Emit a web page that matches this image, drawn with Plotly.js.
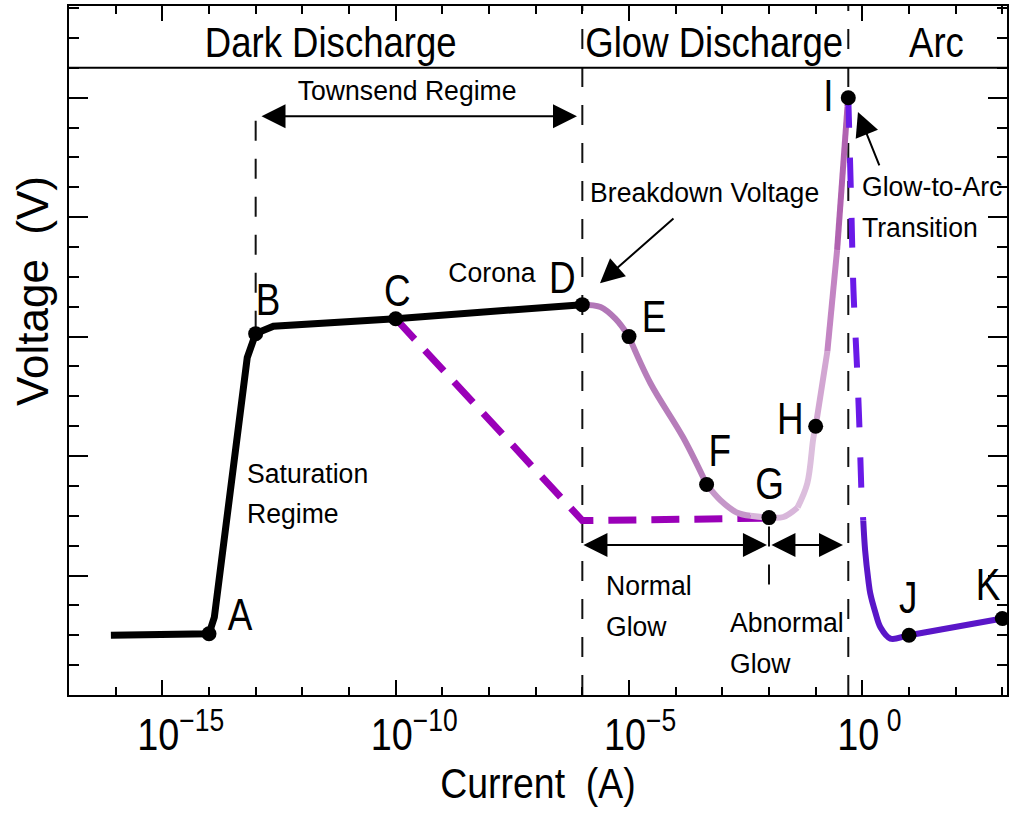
<!DOCTYPE html>
<html><head><meta charset="utf-8">
<script src="https://cdn.plot.ly/plotly-3.0.1.min.js"></script>
<style>html,body{margin:0;padding:0;background:#fff;} #chart{width:1012px;height:813px;}</style>
</head><body><div id="chart"></div>
<script>
// ---------------- data ----------------
// Dark discharge (black) curve: current (A) / voltage (arb. tick units)
const darkCurrent = [7.9e-17, 1e-14, 1.3e-14, 6.6e-14, 1e-13, 2.4e-13, 1e-10, 1e-6];
const darkVoltage = [2.0, 2.05, 2.6, 11.3, 12.1, 12.35, 12.6, 13.07];

// Dashed purple path C -> normal glow
const shortcutCurrent = [1e-10, 1e-6, 1e-2];
const shortcutVoltage = [12.6, 5.84, 5.92];

// Glow discharge (mauve) curve D -> I
const glowCurrent = [1e-6, 2.45e-6, 5.1e-6, 1e-5, 2.9e-5, 1.45e-4, 4.6e-4, 9.1e-4, 2.1e-3, 4e-3, 1e-2, 2.04e-2, 4.1e-2, 6.6e-2, 8.9e-2, 0.1, 0.178, 0.288, 0.48, 0.5];
const glowVoltage = [13.07, 12.99, 12.6, 12.0, 10.43, 8.62, 7.05, 6.52, 6.1, 6.0, 5.94, 5.96, 6.28, 7.08, 8.6, 9.0, 11.5, 14.9, 19.7, 20.0];

// Glow-to-arc transition (dashed) and arc (solid)
const transCurrent = [0.5, 0.575, 0.646, 0.776, 0.871, 0.955, 1.047];
const transVoltage = [20.0, 16.56, 13.54, 10.86, 8.86, 6.85, 5.84];
const arcCurrent = [1.047, 1.148, 1.349, 1.479, 1.905, 2.455, 3.98, 10, 1000];
const arcVoltage = [5.84, 4.84, 3.83, 3.40, 2.76, 2.26, 1.89, 2.0, 2.56];

// Labelled points
const pointLabels = ['A','B','C','D','E','F','G','H','I','J','K'];
const pointCurrent = [1e-14, 1e-13, 1e-10, 1e-6, 1e-5, 4.6e-4, 1e-2, 0.1, 0.5, 10, 1000];
const pointVoltage = [2.05, 12.1, 12.6, 13.07, 12.0, 7.05, 5.94, 9.0, 20.0, 2.0, 2.56];

// Region boundaries (current, A)
const boundaryCurrent = [1e-13, 1e-6, 1e-2, 0.5];
const boundaryVoltageFrom = [12.2, 0, 3.7, 0];
const boundaryVoltageTo = [19.8, 23.07, 5.9, 23.07];

// Axis ticks
const xTickVals = [1e-15, 1e-10, 1e-5, 1];
const xTickText = ['10<sup>−15</sup>', '10<sup>−10</sup>', '10<sup>−5</sup>', '10<sup> 0</sup>'];
const xMinorVals = [1e-17,1e-16,1e-14,1e-13,1e-12,1e-11,1e-9,1e-8,1e-7,1e-6,1e-4,1e-3,1e-2,1e-1,10,100,1000];

// Region texts
const regionNames = ['Dark Discharge', 'Glow Discharge', 'Arc'];

// ---------------- styles ----------------
const FONT = 'Arial, "Liberation Sans", sans-serif';
const glowSegments = [[0, 3, '#b277b7'], [3, 6, '#b67dba'], [6, 9, '#c597c9'], [9, 12, '#d8b6da'], [12, 15, '#dcbedd'],
  [15, 16, '#d2a6d2'], [16, 17, '#c385c3'], [17, 18, '#b062b0'], [18, 19, '#9c3e9c']];
const labelShift = {A:[31,19],B:[12,34],C:[2,28],D:[-20,27],E:[25,20],F:[13,34],G:[0,34],H:[-25,8],I:[-20,2],J:[-1,38],K:[-14,34]};
const SQ_LABEL = 0.82, SQ_HEAD = 0.87, SQ_SMALL = 0.95, SQ_TICK = 0.86, SQ_XTITLE = 0.87;

const traces = [];
boundaryCurrent.forEach((c, i) => {
  traces.push({x:[c, c], y:[boundaryVoltageFrom[i], boundaryVoltageTo[i]], mode:'lines',
    line:{color:'#111', width:2, dash:'20px,18px'}, hoverinfo:'skip'});
});
traces.push({x:shortcutCurrent, y:shortcutVoltage, mode:'lines', line:{color:'#9a00b8', width:7, dash:'28px,15px'}});
traces.push({x:darkCurrent, y:darkVoltage, mode:'lines', line:{color:'#000', width:7}});
glowSegments.forEach(([a, b, col]) => {
  traces.push({x:glowCurrent.slice(a, b+1), y:glowVoltage.slice(a, b+1), mode:'lines',
    line:{color:col, width:6, shape:'spline', smoothing:1}});
});
traces.push({x:transCurrent, y:transVoltage, mode:'lines', line:{color:'#6a1ae8', width:6, dash:'30px,30px', shape:'spline'}});
traces.push({x:arcCurrent, y:arcVoltage, mode:'lines', line:{color:'#5a16c8', width:6, shape:'spline'}});
traces.push({x:pointCurrent, y:pointVoltage, mode:'markers', marker:{color:'#000', size:15}});

const ann = [], annSqueeze = [];
const txt = (text, lx, y, size, sq, opts) => {
  annSqueeze.push(sq);
  return Object.assign({text, x:lx, y, xref:'x', yref:'y', showarrow:false,
    font:{family:FONT, size, color:'#000'}}, opts || {});
};
// point labels
pointLabels.forEach((l, i) => {
  ann.push(txt(l, Math.log10(pointCurrent[i]), pointVoltage[i], 45, SQ_LABEL, {xshift:labelShift[l][0], yshift:labelShift[l][1]}));
});
// region headers
ann.push(txt(regionNames[0], -11.386, 21.86, 42, SQ_HEAD));
ann.push(txt(regionNames[1], -3.18, 21.86, 42, SQ_HEAD));
ann.push(txt(regionNames[2], 1.58, 21.86, 42, SQ_HEAD));
// other text
const L = {xanchor:'left', align:'left'};
ann.push(txt('Townsend Regime', -9.758, 20.25, 28, SQ_SMALL));
ann.push(txt('Breakdown Voltage', -3.372, 16.81, 28, SQ_SMALL));
ann.push(txt('Corona', -7.936, 14.16, 28, SQ_SMALL));
ann.push(txt('Saturation', -13.229, 7.43, 28, SQ_SMALL, L));
ann.push(txt('Regime', -13.229, 6.09, 28, SQ_SMALL, L));
ann.push(txt('Normal', -5.536, 3.68, 28, SQ_SMALL, L));
ann.push(txt('Glow', -5.536, 2.28, 28, SQ_SMALL, L));
ann.push(txt('Abnormal', -2.879, 2.44, 28, SQ_SMALL, L));
ann.push(txt('Glow', -2.879, 1.07, 28, SQ_SMALL, L));
ann.push(txt('Glow-to-Arc', -0.051, 17.04, 28, SQ_SMALL, L));
ann.push(txt('Transition', -0.051, 15.67, 28, SQ_SMALL, L));
// arrows
const arrow = (x, y, ax, ay, both) => {
  annSqueeze.push(1);
  return {text:'', x, y, ax, ay, xref:'x', yref:'y', axref:'x', ayref:'y',
    showarrow:true, arrowhead:2, startarrowhead:2, arrowside: both ? 'end+start' : 'end',
    arrowsize:2.4, startarrowsize:2.4, arrowwidth:2, arrowcolor:'#000', standoff:0, startstandoff:0};
};
ann.push(arrow(-6.115, 19.38, -12.907, 19.38, true));
ann.push(arrow(-5.622, 13.79, -4.015, 16.0, false));
ann.push(arrow(-0.094, 19.52, 0.377, 17.68, false));
ann.push(arrow(-2.044, 5.02, -6.008, 5.02, true));
ann.push(arrow(-0.415, 5.02, -1.98, 5.02, true));
// y title
annSqueeze.push(1);
ann.push({text:'Voltage\u00a0 (V)', xref:'paper', yref:'y', x:-0.0384, y:13.53, textangle:-90, showarrow:false,
  xanchor:'center', yanchor:'middle', font:{family:FONT, size:44, color:'#000'}});

const layout = {
  width:1012, height:813, margin:{l:69, r:5, t:6, b:118},
  paper_bgcolor:'#fff', plot_bgcolor:'#fff', showlegend:false,
  xaxis:{type:'log', range:[-17, 3.1], tickmode:'array', tickvals:xTickVals, ticktext:xTickText,
    ticks:'inside', ticklen:15, tickwidth:2, tickcolor:'#000', showline:true, linewidth:2, linecolor:'#000',
    mirror:'allticks', showgrid:false, zeroline:false,
    minor:{tickmode:'array', tickvals:xMinorVals, ticks:'inside', ticklen:8, tickwidth:2, tickcolor:'#000', showgrid:false},
    tickfont:{family:FONT, size:44, color:'#000'},
    title:{text:'Current\u00a0 (A)', font:{family:FONT, size:43, color:'#000'}, standoff:10}},
  yaxis:{range:[0, 23.07], tickmode:'linear', tick0:0, dtick:4, ticks:'inside', ticklen:19, tickwidth:2, tickcolor:'#000',
    showticklabels:false, showline:true, linewidth:2, linecolor:'#000', mirror:'allticks', showgrid:false, zeroline:false,
    minor:{dtick:1, ticks:'inside', ticklen:10, tickwidth:2, tickcolor:'#000', showgrid:false}},
  shapes:[{type:'line', xref:'paper', x0:0, x1:1, yref:'y', y0:21, y1:21, line:{color:'#000', width:2}}],
  annotations: ann
};

// horizontal squeeze of a text element about a pivot (mimics the narrow typeface of the original)
function squeeze(t, s, pivot, shift) {
  const prev = t.getAttribute('transform') || '';
  t.setAttribute('transform', prev + ' translate(' + (pivot + (shift || 0)) + ',0) scale(' + s + ',1) translate(' + (-pivot) + ',0)');
}
Plotly.newPlot('chart', traces, layout, {staticPlot:true, displayModeBar:false}).then(gd => {
  gd.querySelectorAll('g.annotation').forEach(g => {
    const idx = +g.getAttribute('data-index');
    const t = g.querySelector('text.annotation-text');
    if (!t || !t.textContent.trim()) return;
    const s = annSqueeze[idx];
    if (s === 1) return;
    const b = t.getBBox();
    const anchor = t.getAttribute('text-anchor');
    const pivot = anchor === 'start' ? b.x : anchor === 'end' ? b.x + b.width : b.x + b.width / 2;
    squeeze(t, s, pivot);
  });
  gd.querySelectorAll('g.xtick > text').forEach(t => {
    const b = t.getBBox();
    const tickPos = b.x + b.width / 2;
    let w10 = b.width;
    try { w10 = t.getSubStringLength(0, 2); } catch (e) {}
    const shift = tickPos - 4 - b.x - SQ_TICK * w10 / 2;
    squeeze(t, SQ_TICK, b.x, shift);
  });
  const xt = gd.querySelector('text.xtitle');
  if (xt) { const b = xt.getBBox(); squeeze(xt, SQ_XTITLE, b.x + b.width / 2); }
  // drop empty placeholder text nodes (arrow-only annotations, unused titles)
  gd.querySelectorAll('svg text').forEach(t => { if (!t.textContent.trim()) t.remove(); });
});
</script></body></html>
